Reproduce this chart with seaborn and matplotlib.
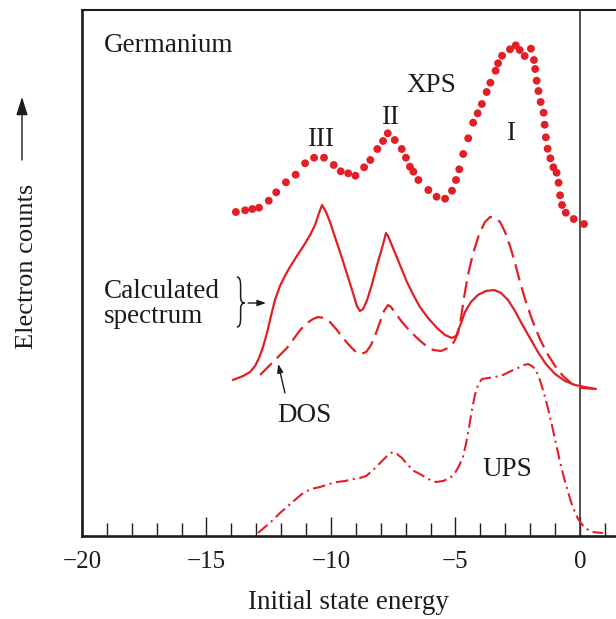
import numpy as np
import pandas as pd
import matplotlib
matplotlib.use("Agg")
import matplotlib.pyplot as plt
from matplotlib.path import Path
from matplotlib.patches import PathPatch, FancyArrowPatch
from matplotlib.ticker import MultipleLocator
import seaborn as sns

# ---------------- data ----------------
xps_energy = [-13.82, -13.45, -13.16, -12.89, -12.50, -12.20, -11.81, -11.42, -11.04, -10.68,
              -10.28, -9.89, -9.61, -9.31, -9.02, -8.67, -8.42, -8.14, -7.91, -7.72,
              -7.44, -7.16, -6.99, -6.83, -6.69, -6.49, -6.09, -5.76, -5.42, -5.14,
              -4.98, -4.85, -4.69, -4.49, -4.29, -4.11, -3.94, -3.75, -3.60, -3.39,
              -3.29, -3.13, -2.81, -2.58, -2.42, -2.22, -1.97, -1.85, -1.80, -1.74,
              -1.67, -1.58, -1.46, -1.42, -1.37, -1.30, -1.19, -1.07, -0.94, -0.86,
              -0.80, -0.72, -0.57, -0.25, 0.16]
xps_counts = [324, 325.7, 327, 328.3, 335.3, 343.7, 353.7, 361.3, 372.7, 378.3,
              378.3, 371, 364.7, 362.7, 360.3, 368.7, 376, 387, 395, 402.7,
              396, 387, 378.3, 369.3, 364.3, 356, 346, 339.3, 337.3, 345.3,
              356, 366.7, 382, 397.7, 413.3, 422.7, 432, 444, 453.3, 465.3,
              472.7, 480.3, 486.7, 490.7, 486, 480, 487.3, 476, 467, 455.3,
              445, 434, 423.3, 411.3, 398.7, 387.3, 377.7, 368.7, 363.3, 353.3,
              340.7, 331, 323.3, 317, 312]

calc_energy = [-13.94, -13.53, -13.25, -13.05, -12.89, -12.73, -12.57, -12.41, -12.25, -12.05,
               -11.85, -11.65, -11.37, -11.08, -10.84, -10.64, -10.48, -10.36, -10.20, -10.04,
               -9.80, -9.52, -9.28, -9.08, -8.96, -8.84, -8.71, -8.55, -8.35, -8.15,
               -7.95, -7.79, -7.71, -7.51, -7.23, -6.95, -6.67, -6.43, -6.10, -5.74,
               -5.42, -5.14, -4.98, -4.82, -4.62, -4.38, -4.10, -3.78, -3.45, -3.17,
               -2.89, -2.61, -2.33, -2.01, -1.69, -1.37, -1.00, -0.60, -0.20, 0.20, 0.64]
calc_counts = [156, 160, 164, 170, 178, 189, 203, 220, 236, 250,
               260, 269, 280, 291, 301, 311, 323, 331, 324, 314,
               296, 275, 256, 240, 230, 225, 227, 236, 252, 271,
               288, 303, 300, 288, 271, 254, 240, 229, 218, 208,
               201, 198, 200, 210, 224, 234, 241, 245, 246, 243,
               236, 225, 212, 198, 184, 172, 162, 155, 151, 149, 147]

dos_energy = [-12.85, -12.57, -12.33, -12.05, -11.77, -11.53, -11.24, -10.96, -10.72, -10.52,
              -10.28, -10.04, -9.76, -9.52, -9.24, -9.00, -8.80, -8.59, -8.39, -8.19,
              -8.03, -7.87, -7.71, -7.59, -7.39, -7.15, -6.87, -6.55, -6.22, -5.90,
              -5.58, -5.30, -5.06, -4.90, -4.78, -4.66, -4.50, -4.30, -4.06, -3.82,
              -3.61, -3.41, -3.21, -3.01, -2.81, -2.61, -2.41, -2.17, -1.89, -1.61,
              -1.33, -1.00, -0.68, -0.32, 0.08, 0.60]
dos_counts = [161, 168, 174, 181, 188, 196, 206, 213, 217, 219,
              218, 214, 206, 198, 190, 184, 182, 184, 191, 203,
              214, 225, 231, 229, 222, 214, 206, 198, 191, 186,
              185, 188, 194, 203, 218, 238, 261, 282, 301, 314,
              319, 318, 314, 304, 290, 273, 254, 234, 214, 197,
              183, 170, 160, 152, 148, 147]

ups_energy = [-12.93, -12.65, -12.33, -12.05, -11.77, -11.45, -11.12, -10.80, -10.44, -10.08,
              -9.76, -9.44, -9.12, -8.84, -8.59, -8.35, -8.11, -7.87, -7.67, -7.51,
              -7.35, -7.15, -6.91, -6.67, -6.43, -6.10, -5.78, -5.50, -5.22, -5.02,
              -4.86, -4.70, -4.58, -4.46, -4.34, -4.22, -4.10, -3.94, -3.69, -3.41,
              -3.09, -2.77, -2.49, -2.25, -2.09, -1.93, -1.77, -1.61, -1.45, -1.29,
              -1.12, -0.96, -0.80, -0.64, -0.48, -0.32, -0.16, 0.00, 0.20, 0.48, 0.92]
ups_counts = [3, 9, 16, 23, 29, 36, 43, 47, 49, 52,
              54, 55, 57, 58, 60, 65, 71, 77, 82, 84,
              82, 78, 71, 65, 62, 57, 54, 55, 58, 63,
              70, 79, 92, 108, 126, 141, 151, 157, 158, 159,
              161, 165, 168, 171, 172, 170, 166, 156, 143, 128,
              110, 92, 74, 58, 44, 31, 21, 14, 8, 4, 3]

x_ticks = [-20, -15, -10, -5, 0]
x_ticklabels = ["\u221220", "\u221215", "\u221210", "\u22125", "0"]

# ---------------- style ----------------
sns.set_style("ticks")
plt.rcParams["font.family"] = ["Liberation Serif", "DejaVu Serif"]
RED = "#e41e25"
INK = "#1c1c1c"

fig = plt.figure(figsize=(6.16, 6.19), dpi=100)
ax = fig.add_axes([82 / 616, 83 / 619, 1 - 82 / 616, 526 / 619])

xps = pd.DataFrame({"energy": xps_energy, "counts": xps_counts})
calc = pd.DataFrame({"energy": calc_energy, "counts": calc_counts})
dos = pd.DataFrame({"energy": dos_energy, "counts": dos_counts})
ups = pd.DataFrame({"energy": ups_energy, "counts": ups_counts})

sns.scatterplot(data=xps, x="energy", y="counts", ax=ax, color=RED, s=32,
                edgecolor="none", linewidth=0, zorder=3)
sns.lineplot(data=calc, x="energy", y="counts", ax=ax, color=RED, lw=1.6, zorder=2)
sns.lineplot(data=dos, x="energy", y="counts", ax=ax, color=RED, lw=1.6,
             zorder=2).lines[-1].set_dashes([7.5, 3.2])
sns.lineplot(data=ups, x="energy", y="counts", ax=ax, color=RED, lw=1.5, zorder=2
             ).lines[-1].set_dashes([6, 2.2, 1, 2.2])

ax.set_xlim(-20, 1.446)
ax.set_ylim(0, 526)
ax.axvline(0, color="#3a3232", lw=1.2, zorder=1)

ax.set_xticks(x_ticks)
ax.set_xticklabels(x_ticklabels)
ax.xaxis.set_minor_locator(MultipleLocator(1))
ax.tick_params(axis="x", which="major", direction="in", length=13.5, width=1.0,
               colors=INK, labelsize=18, pad=11)
ax.tick_params(axis="x", which="minor", direction="in", length=9.5, width=1.0, colors=INK)
ax.set_yticks([])
ax.set_xlabel("Initial state energy", fontsize=19.5, color=INK, labelpad=12)
ax.set_ylabel("")

for side in ["left", "bottom"]:
    ax.spines[side].set_linewidth(1.9)
    ax.spines[side].set_color(INK)
ax.spines["top"].set_linewidth(1.5)
ax.spines["top"].set_color(INK)
ax.spines["top"].set_visible(True)
ax.spines["right"].set_visible(False)

# ---------------- annotations ----------------
fs = 19.5
ax.text(-19.12, 491, "Germanium", fontsize=fs, color=INK, ha="left", va="center")
ax.text(-5.98, 451, "XPS", fontsize=fs, color=INK, ha="center", va="center")
ax.text(-10.44, 397, "III", fontsize=fs, color=INK, ha="center", va="center")
ax.text(-7.63, 418, "II", fontsize=fs, color=INK, ha="center", va="center")
ax.text(-2.78, 402, "I", fontsize=fs, color=INK, ha="center", va="center")
ax.text(-19.12, 232, "Calculated\nspectrum", fontsize=fs, color=INK, ha="left",
        va="center", linespacing=0.95)
ax.text(-11.08, 121, "DOS", fontsize=fs, color=INK, ha="center", va="center")
ax.text(-2.94, 66, "UPS", fontsize=fs, color=INK, ha="center", va="center")

# curly brace next to "Calculated spectrum"
x0, x1, x2 = -13.78, -13.63, -13.47
yt, ym, yb = 259, 233, 209
verts = [(x0, yt), (x1, yt), (x1, yt - 8), (x1, ym + 6), (x1, ym), (x2, ym),
         (x1, ym), (x1, ym - 6), (x1, yb + 8), (x1, yb), (x0, yb)]
codes = [Path.MOVETO, Path.CURVE3, Path.CURVE3, Path.LINETO, Path.CURVE3, Path.CURVE3,
         Path.CURVE3, Path.CURVE3, Path.LINETO, Path.CURVE3, Path.CURVE3]
ax.add_patch(PathPatch(Path(verts, codes), fill=False, lw=1.1, edgecolor=INK))

arrow_kw = dict(arrowstyle="-|>,head_length=0.5,head_width=0.18", color=INK, lw=1.0,
                shrinkA=0, shrinkB=0)
ax.annotate("", xy=(-12.61, 233), xytext=(-13.33, 233), arrowprops=arrow_kw)
ax.annotate("", xy=(-12.12, 172), xytext=(-11.85, 143), arrowprops=arrow_kw)

# y-axis label with upward arrow
fig.text(27 / 616, 1 - 266 / 619, "Electron counts", rotation=90, fontsize=19,
         color=INK, ha="center", va="center")
fig.patches.append(FancyArrowPatch(
    (22 / 616, 1 - 160 / 619), (22 / 616, 1 - 97 / 619), transform=fig.transFigure,
    arrowstyle="-|>,head_length=1.1,head_width=0.35", mutation_scale=10,
    color=INK, lw=1.0, shrinkA=0, shrinkB=0))

fig.savefig("out.png", dpi=100)
